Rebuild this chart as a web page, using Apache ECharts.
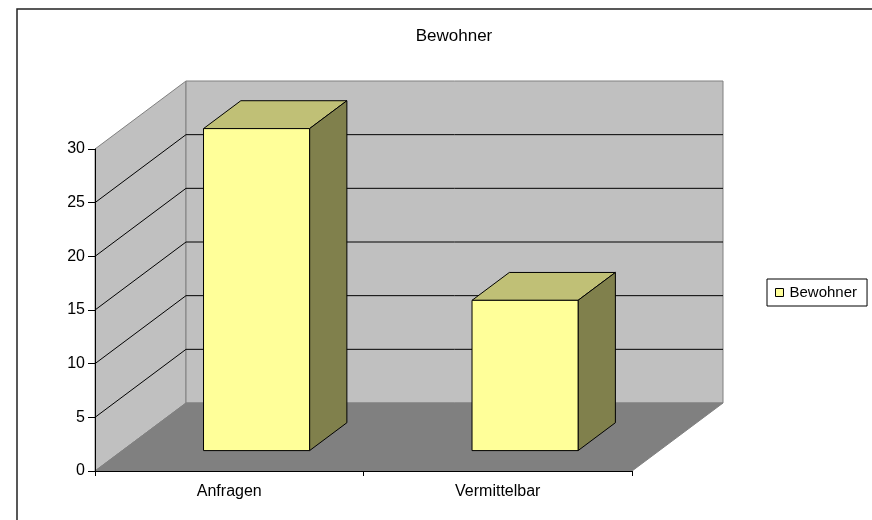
<!DOCTYPE html>
<html>
<head>
<meta charset="utf-8">
<script src="https://cdn.jsdelivr.net/npm/echarts@6/dist/echarts.min.js"></script>
<style>
html,body{margin:0;padding:0;background:#fff;}
#chart{width:872px;height:520px;}
</style>
</head>
<body>
<div id="chart"></div>
<script>
// ---- data ----
var categories = ['Anfragen', 'Vermittelbar'];
var seriesName = 'Bewohner';
var values = [30, 14];
var yTicks = [0, 5, 10, 15, 20, 25, 30];
var titleText = 'Bewohner';

// ---- style / geometry ----
var DX = 91, DY = -68;           // depth vector of the 3D box
var BAR_D0 = 0.30, BAR_D1 = 0.71; // bar depth range (fraction of depth)
var BAR_W = 0.395;               // bar width fraction of band
var FONT = "'Liberation Sans', Arial, sans-serif";

var chart = echarts.init(document.getElementById('chart'), null, {renderer: 'canvas'});
var yMin = yTicks[0], yMax = yTicks[yTicks.length - 1];

function frameRender(params, api) {
  var c0 = api.coord([0, yMin]);
  var band = api.size([1, 0])[0];
  var left = c0[0] - band / 2;
  var right = left + band * categories.length;
  var yb = c0[1];
  var yt = api.coord([0, yMax])[1];
  var children = [];
  children.push({type: 'polygon', shape: {points: [[left, yb], [left, yt], [left + DX, yt + DY], [left + DX, yb + DY]]},
    style: {fill: '#c0c0c0', stroke: '#808080', lineWidth: 1}});
  children.push({type: 'polygon', shape: {points: [[left + DX, yt + DY], [right + DX, yt + DY], [right + DX, yb + DY], [left + DX, yb + DY]]},
    style: {fill: '#c0c0c0', stroke: '#808080', lineWidth: 1}});
  children.push({type: 'polygon', shape: {points: [[left, yb], [right, yb], [right + DX, yb + DY], [left + DX, yb + DY]]},
    style: {fill: '#808080', stroke: '#808080', lineWidth: 1}});
  for (var i = 0; i < yTicks.length; i++) {
    var v = yTicks[i];
    if (v === yMin || v === yMax) continue;
    var y = api.coord([0, v])[1];
    children.push({type: 'polyline', shape: {points: [[left, y], [left + DX, y + DY], [right + DX, y + DY]]},
      style: {stroke: '#000', lineWidth: 1, fill: null}});
  }
  return {type: 'group', children: children};
}

function barRender(params, api) {
  var cat = api.value(0), val = api.value(1);
  var c = api.coord([cat, val]);
  var b = api.coord([cat, yMin]);
  var band = api.size([1, 0])[0];
  var w = band * BAR_W;
  var ox = DX * BAR_D0, oy = DY * BAR_D0;
  var dx = DX * (BAR_D1 - BAR_D0), dy = DY * (BAR_D1 - BAR_D0);
  var x0 = c[0] - w / 2 + ox, x1 = c[0] + w / 2 + ox;
  var yt = c[1] + oy, yb = b[1] + oy;
  var st = {stroke: '#000', lineWidth: 1};
  return {type: 'group', children: [
    {type: 'polygon', shape: {points: [[x0, yt], [x1, yt], [x1 + dx, yt + dy], [x0 + dx, yt + dy]]},
      style: Object.assign({fill: '#c0c076'}, st)},
    {type: 'polygon', shape: {points: [[x1, yt], [x1 + dx, yt + dy], [x1 + dx, yb + dy], [x1, yb]]},
      style: Object.assign({fill: '#80804c'}, st)},
    {type: 'rect', shape: {x: x0, y: yt, width: x1 - x0, height: yb - yt},
      style: Object.assign({fill: '#ffff99'}, st)}
  ]};
}

var option = {
  backgroundColor: '#ffffff',
  animation: false,
  title: {
    text: titleText, left: 449, top: 23, textAlign: 'center',
    textStyle: {fontFamily: FONT, fontSize: 17, fontWeight: 'normal', color: '#000'}
  },
  legend: {
    left: 767, top: 279,
    data: [{name: seriesName, icon: 'rect', itemStyle: {color: '#ffff99', borderColor: '#000', borderWidth: 1}}],
    itemWidth: 8, itemHeight: 8, itemGap: 4,
    padding: [6, 10, 6, 8],
    borderColor: '#000', borderWidth: 1,
    textStyle: {fontFamily: FONT, fontSize: 15, color: '#000', padding: [0, 0, 0, 1]}
  },
  graphic: [{
    type: 'rect', shape: {x: 17, y: 9, width: 900, height: 600},
    style: {fill: null, stroke: '#222', lineWidth: 1.5}, z: -1
  }],
  grid: {left: 95, right: 240, top: 149, bottom: 49},
  xAxis: {
    type: 'category', data: categories, boundaryGap: true, z: 10,
    axisLine: {show: true, lineStyle: {color: '#000', width: 1}},
    axisTick: {show: true, length: 5, inside: false, lineStyle: {color: '#000'}},
    axisLabel: {fontFamily: FONT, fontSize: 16, color: '#000', margin: 13},
    splitLine: {show: false}
  },
  yAxis: {
    type: 'value', min: yMin, max: yMax, interval: 5, z: 10,
    axisLine: {show: true, lineStyle: {color: '#000', width: 1}},
    axisTick: {show: true, length: 7, lineStyle: {color: '#000'}},
    axisLabel: {fontFamily: FONT, fontSize: 16, color: '#000', margin: 10},
    splitLine: {show: false}
  },
  series: [
    {type: 'custom', name: '_frame', renderItem: frameRender, data: [[0, 0]], z: 1, silent: true},
    {type: 'custom', name: seriesName, renderItem: barRender,
      itemStyle: {color: '#ffff99'},
      data: values.map(function (v, i) { return [i, v]; }), z: 2}
  ]
};
chart.setOption(option);
</script>
</body>
</html>
